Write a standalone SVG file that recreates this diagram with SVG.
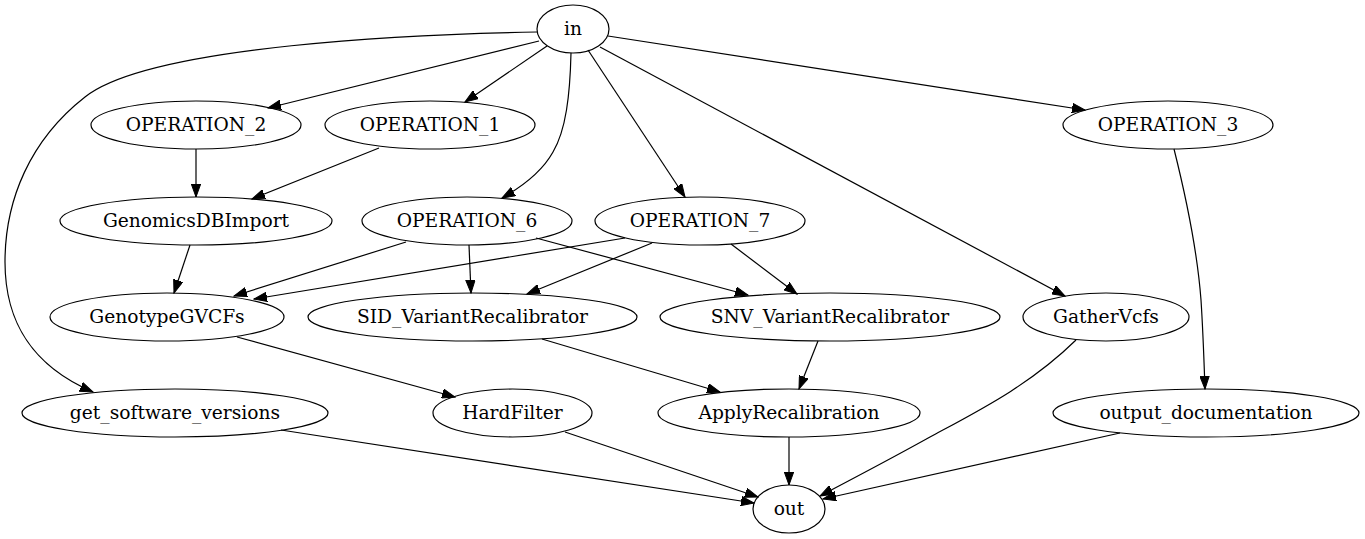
<svg xmlns="http://www.w3.org/2000/svg" width="1365" height="539" viewBox="0 0 1365 539">
<style>
.n ellipse{fill:none;stroke:#000;stroke-width:1.2}
.n text{font-family:"DejaVu Serif","Liberation Serif",serif;font-size:18.67px;text-anchor:middle;fill:#000}
.e path{fill:none;stroke:#000;stroke-width:1.2;marker-end:url(#ah)}
</style>
<defs>
<marker id="ah" markerWidth="14" markerHeight="10" refX="13" refY="5" orient="auto" markerUnits="userSpaceOnUse"><path d="M0,0.3 L13,5 L0,9.7 z" fill="#000" stroke="#000" stroke-width="1"/></marker>
</defs>
<rect width="1365" height="539" fill="#fff"/>
<g id="edges" class="e">
<path d="M537,32 C420,34 150,45 85,97 C30,140 5,200 5,262 C5,320 30,365 93,392"/>
<path d="M539,41 L268,108"/>
<path d="M547,46 L465,102"/>
<path d="M571,53 C570,95 566,130 553,152 C543,170 525,185 502,198"/>
<path d="M588,50 L685,197"/>
<path d="M600,47 L1065,296"/>
<path d="M608,36 L1085,110"/>
<path d="M196,149 L196,197"/>
<path d="M379,148 L252,199"/>
<path d="M190,245 L174,293"/>
<path d="M406,242 L234,296"/>
<path d="M625,238 L254,299"/>
<path d="M469,245 L471,293"/>
<path d="M652,243 L527,294"/>
<path d="M536,238 L748,295"/>
<path d="M731,244 L797,294"/>
<path d="M237,337 L455,397"/>
<path d="M542,339 L720,392"/>
<path d="M818,341 L799,389"/>
<path d="M1076,340 C1030,385 980,410 930,437 C885,462 850,480 820,496"/>
<path d="M1174,149 C1188,205 1198,260 1201,300 C1203,330 1204,360 1205,389"/>
<path d="M281,430 L754,503"/>
<path d="M565,432 L758,497"/>
<path d="M789,437 L789,485"/>
<path d="M1120,433 L823,499"/>
</g>
<g id="in" class="n"><ellipse cx="573" cy="29" rx="36" ry="24"/><text x="573" y="35">in</text></g>
<g id="OPERATION_2" class="n"><ellipse cx="196" cy="125" rx="105" ry="24"/><text x="196" y="131">OPERATION_2</text></g>
<g id="OPERATION_1" class="n"><ellipse cx="430" cy="125" rx="105" ry="24"/><text x="430" y="131">OPERATION_1</text></g>
<g id="OPERATION_3" class="n"><ellipse cx="1168" cy="125" rx="105" ry="24"/><text x="1168" y="131">OPERATION_3</text></g>
<g id="GenomicsDBImport" class="n"><ellipse cx="196" cy="221" rx="136" ry="24"/><text x="196" y="227">GenomicsDBImport</text></g>
<g id="OPERATION_6" class="n"><ellipse cx="467" cy="221" rx="105" ry="24"/><text x="467" y="227">OPERATION_6</text></g>
<g id="OPERATION_7" class="n"><ellipse cx="700" cy="221" rx="105" ry="24"/><text x="700" y="227">OPERATION_7</text></g>
<g id="GenotypeGVCFs" class="n"><ellipse cx="167" cy="317" rx="117" ry="24"/><text x="167" y="323">GenotypeGVCFs</text></g>
<g id="SID_VariantRecalibrator" class="n"><ellipse cx="472.5" cy="317" rx="164.5" ry="24"/><text x="472.5" y="323">SID_VariantRecalibrator</text></g>
<g id="SNV_VariantRecalibrator" class="n"><ellipse cx="830" cy="317" rx="170" ry="24"/><text x="830" y="323">SNV_VariantRecalibrator</text></g>
<g id="GatherVcfs" class="n"><ellipse cx="1106" cy="317" rx="83" ry="24"/><text x="1106" y="323">GatherVcfs</text></g>
<g id="get_software_versions" class="n"><ellipse cx="175" cy="413" rx="153" ry="24"/><text x="175" y="419">get_software_versions</text></g>
<g id="HardFilter" class="n"><ellipse cx="512.5" cy="413" rx="79.5" ry="24"/><text x="512.5" y="419">HardFilter</text></g>
<g id="ApplyRecalibration" class="n"><ellipse cx="789" cy="413" rx="131" ry="24"/><text x="789" y="419">ApplyRecalibration</text></g>
<g id="output_documentation" class="n"><ellipse cx="1206" cy="413" rx="153" ry="24"/><text x="1206" y="419">output_documentation</text></g>
<g id="out" class="n"><ellipse cx="789" cy="509" rx="36" ry="24"/><text x="789" y="515">out</text></g>
</svg>
